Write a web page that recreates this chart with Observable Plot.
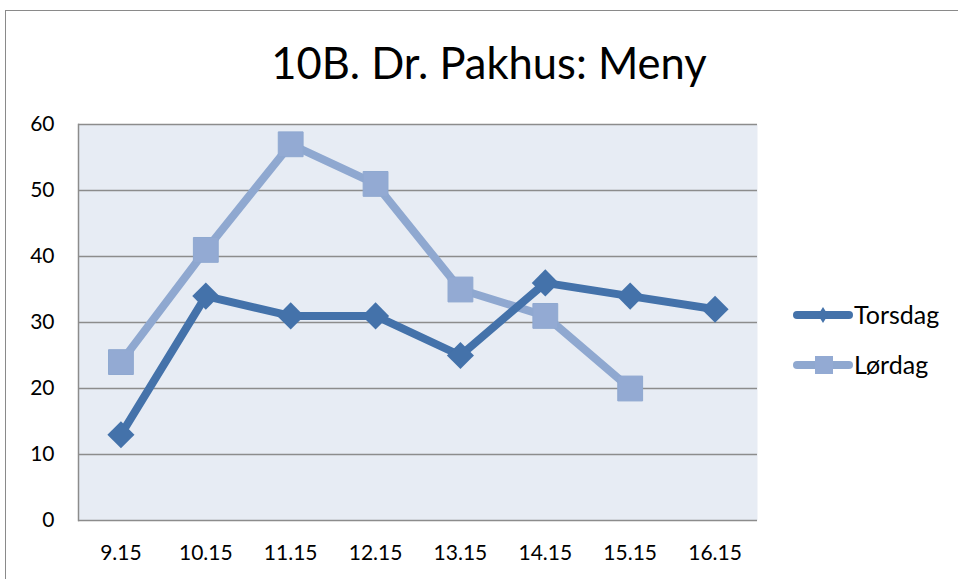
<!DOCTYPE html>
<html><head><meta charset="utf-8">
<script src="https://cdn.jsdelivr.net/npm/d3@7"></script>
<script src="https://cdn.jsdelivr.net/npm/@observablehq/plot@0.6"></script>
<style>
body{margin:0;background:#fff;font-family:Lato,"Open Sans",sans-serif;}
#wrap{position:relative;width:958px;height:579px;overflow:hidden;}
#border{position:absolute;left:5px;top:10px;width:1000px;height:1000px;border-left:1.5px solid #8a8a8a;border-top:1.5px solid #8a8a8a;}
#title{position:absolute;left:0;width:978px;top:36px;text-align:center;font-size:43.5px;color:#000;}
#legend{position:absolute;left:787px;top:293px;}
#chart svg text{font-size:21px;font-family:Lato,"Open Sans",sans-serif;fill:#000;}
</style></head>
<body><div id="wrap"><div id="border"></div><div id="title">10B. Dr. Pakhus: Meny</div><div id="chart"></div><svg id="legend" width="171" height="100"></svg></div>
<script>
const categories = ["9.15","10.15","11.15","12.15","13.15","14.15","15.15","16.15"];
const torsdag = [13,34,31,31,25,36,34,32];
const lordag = [24,41,57,51,35,31,20];
const seriesNames = ["Torsdag","Lørdag"];
const yTicks = [0,10,20,30,40,50,60];
const colors = {"Torsdag":"#4472AA","Lørdag":"#8FA8D0"};
const markerColors = {"Torsdag":"#4472AA","Lørdag":"#93AAD3"};

const rows = [];
torsdag.forEach((v,i)=>rows.push({cat:categories[i],value:v,series:"Torsdag"}));
lordag.forEach((v,i)=>rows.push({cat:categories[i],value:v,series:"Lørdag"}));
const tRows = rows.filter(d=>d.series==="Torsdag");
const lRows = rows.filter(d=>d.series==="Lørdag");

const chart = Plot.plot({
  width:958, height:579,
  marginLeft:78, marginRight:201, marginTop:124, marginBottom:59,
  style:{fontFamily:"Lato, 'Open Sans', sans-serif", fontSize:"21px", color:"#000", background:"transparent", overflow:"visible"},
  x:{type:"point", domain:categories, padding:0.5, round:false, label:null},
  y:{domain:[0,60], label:null},
  marks:[
    Plot.frame({fill:"#E7ECF4", stroke:null}),
    Plot.gridY(yTicks,{stroke:"#8c8c8c", strokeOpacity:1, strokeWidth:1.5}),
    Plot.frame({anchor:"left", stroke:"#8c8c8c", strokeWidth:1.5}),
    Plot.axisX({tickSize:0, tickPadding:25, fontSize:21}),
    Plot.axisY(yTicks, {tickSize:0, tickPadding:24, fontSize:21}),
    Plot.line(lRows,{x:"cat", y:"value", stroke:colors["Lørdag"], strokeWidth:8, strokeLinejoin:"round"}),
    Plot.dot(lRows,{x:"cat", y:"value", symbol:"square", r:14, fill:markerColors["Lørdag"], stroke:"#8FA8D0", strokeWidth:1}),
    Plot.line(tRows,{x:"cat", y:"value", stroke:colors["Torsdag"], strokeWidth:8, strokeLinejoin:"round"}),
    Plot.dot(tRows,{x:"cat", y:"value", symbol:"diamond2", r:12.2, fill:markerColors["Torsdag"]})
  ]
});
document.getElementById("chart").appendChild(chart);

// Legend
const leg = d3.select("#legend");
seriesNames.forEach((name,i)=>{
  const y = 22 + i*50;
  const g = leg.append("g").attr("transform",`translate(0,${y})`);
  g.append("line").attr("x1",10).attr("x2",62).attr("y1",0).attr("y2",0)
    .attr("stroke",colors[name]).attr("stroke-width",8).attr("stroke-linecap","round");
  if(name==="Torsdag"){
    g.append("path").attr("d","M0,-8L5,0L0,8L-5,0Z").attr("transform","translate(36,0)").attr("fill",markerColors[name]);
  } else {
    g.append("rect").attr("x",28).attr("y",-9).attr("width",18).attr("height",18).attr("fill",markerColors[name]);
  }
  g.append("text").attr("x",67).attr("y",0).attr("dy","0.35em").attr("font-size",25).attr("font-family","Lato, 'Open Sans', sans-serif").text(name);
});
</script></body></html>
